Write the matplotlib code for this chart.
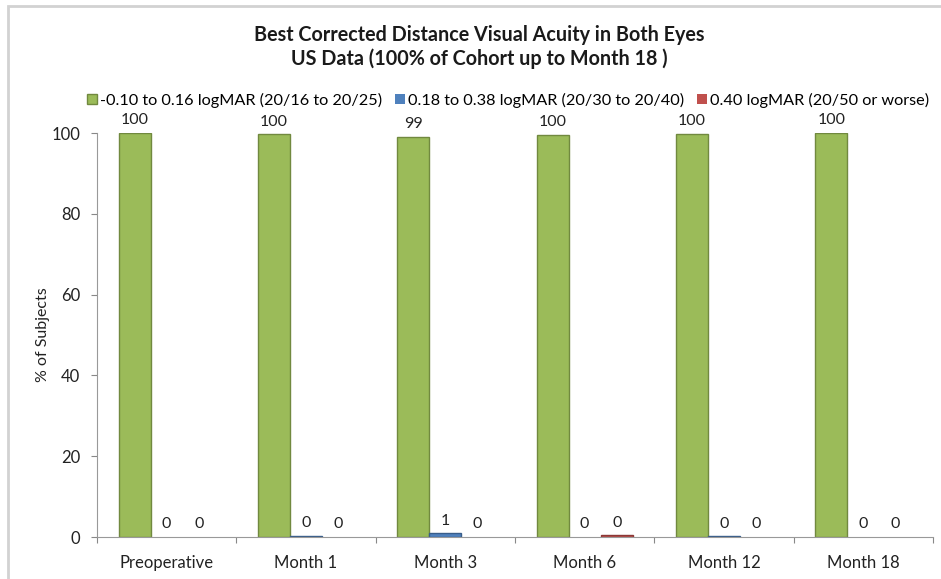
import matplotlib
matplotlib.use('Agg')
import matplotlib.pyplot as plt
from matplotlib.patches import Rectangle
import numpy as np

plt.rcParams['font.family'] = ['Lato', 'DejaVu Sans']

categories = ['Preoperative', 'Month 1', 'Month 3', 'Month 6', 'Month 12', 'Month 18']
series_names = ['-0.10 to 0.16 logMAR (20/16 to 20/25)',
                '0.18 to 0.38 logMAR (20/30 to 20/40)',
                '0.40 logMAR (20/50 or worse)']
green_vals = [100, 99.7, 99.1, 99.6, 99.8, 100]
blue_vals = [0, 0.3, 0.9, 0, 0.2, 0]
red_vals = [0, 0, 0, 0.4, 0, 0]

fills = ['#9BBB59', '#4F81BD', '#C0504D']
edges = ['#71893F', '#385D8A', '#8C3836']

fig = plt.figure(figsize=(9.41, 5.79), dpi=100)
ax = fig.add_axes([97/941, 1 - 537/579, (933 - 97)/941, (537 - 133)/579])

# outer chart frame (only top/left visible in the original)
fig.patches.append(Rectangle((8/941, -0.05), 1.1, 1.05 - 6/579, transform=fig.transFigure,
                             fill=False, edgecolor='#d2d2d2', lw=2, zorder=0))

x = np.arange(len(categories))
w = 0.23
for i, (vals, fc, ec, name) in enumerate(zip([green_vals, blue_vals, red_vals], fills, edges, series_names)):
    lws = [1 if v > 0 else 0 for v in vals]
    bars = ax.bar(x + (i - 1) * w, vals, w, color=fc, edgecolor=ec, linewidth=lws, label=name)
    for b, v in zip(bars, vals):
        ax.annotate(f'{v:.0f}', (b.get_x() + b.get_width() / 2, v), xytext=(0, 4),
                    textcoords='offset points', ha='center', va='bottom',
                    fontsize=11.5, color='#222222', annotation_clip=False)

ax.set_xlim(-0.5, len(categories) - 0.5)
ax.set_ylim(0, 100)
ax.set_yticks([0, 20, 40, 60, 80, 100])
ax.set_xticks(np.arange(len(categories) + 1) - 0.5)
ax.set_xticklabels([])
ax.set_xticks(x, minor=True)
ax.set_xticklabels(categories, minor=True)
ax.tick_params(axis='x', which='minor', length=0, pad=13, labelsize=12, labelcolor='#222222')
ax.tick_params(axis='x', which='major', length=4, color='#888888', direction='out')
ax.tick_params(axis='y', length=4, color='#888888', labelsize=12, labelcolor='#222222', pad=8)
for s in ['top', 'right']:
    ax.spines[s].set_visible(False)
for s in ['left', 'bottom']:
    ax.spines[s].set_color('#999999')

ax.set_ylabel('% of Subjects', fontsize=11.5, color='#222222', labelpad=1)

fig.text(479/941, 1 - 35/579, 'Best Corrected Distance Visual Acuity in Both Eyes',
         ha='center', va='center', fontsize=14.2, fontweight='bold', color='#1a1a1a')
fig.text(479/941, 1 - 59/579, 'US Data (100% of Cohort up to Month 18 )',
         ha='center', va='center', fontsize=14.2, fontweight='bold', color='#1a1a1a')

fig.legend(loc='center', bbox_to_anchor=(508/941, 1 - 100/579), ncol=3, frameon=False,
           fontsize=11.7, handlelength=0.6, handleheight=0.6, handletextpad=0.2,
           columnspacing=0.8, borderaxespad=0)

fig.savefig('out.png', dpi=100, facecolor='white')
